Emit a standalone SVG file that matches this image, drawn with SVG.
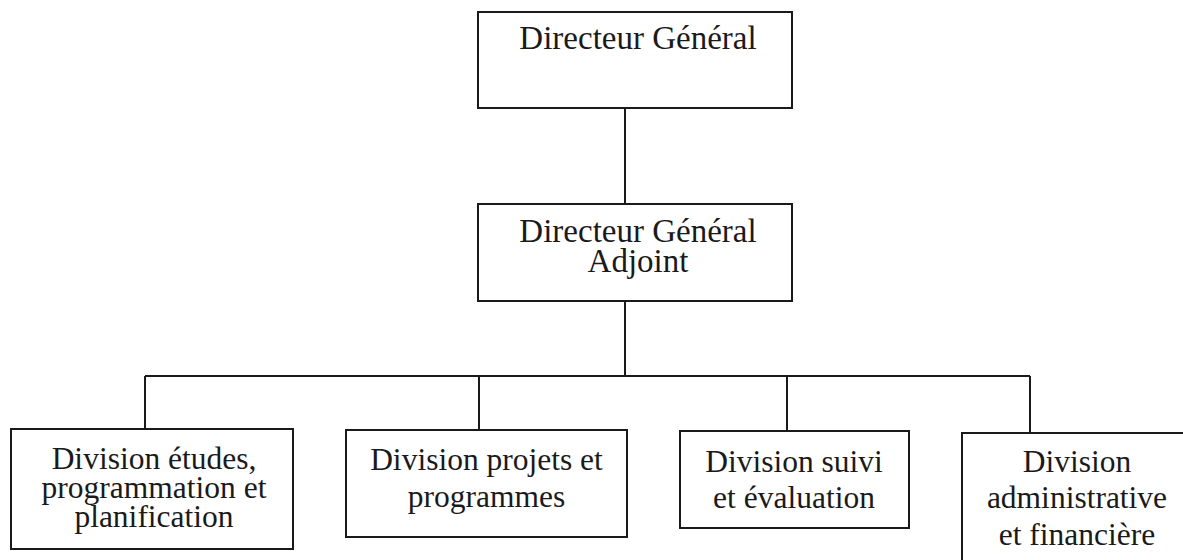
<svg xmlns="http://www.w3.org/2000/svg" width="1183" height="560" viewBox="0 0 1183 560">
<style>
.box{fill:#fff;stroke:#1a1a1a;stroke-width:2}
.ln{stroke:#1a1a1a;stroke-width:2;fill:none}
text{font-family:"Liberation Serif","Times New Roman",serif;fill:#1a1a1a;text-anchor:middle}
.t1{font-size:33px}
.t2{font-size:31.5px}
</style>
<rect width="1183" height="560" fill="#fff"/>
<g id="connectors">
<line class="ln" x1="625" y1="108" x2="625" y2="204"/>
<line class="ln" x1="625" y1="301" x2="625" y2="376"/>
<line class="ln" x1="145" y1="376" x2="1030" y2="376"/>
<line class="ln" x1="145" y1="376" x2="145" y2="429"/>
<line class="ln" x1="479" y1="376" x2="479" y2="430"/>
<line class="ln" x1="787" y1="376" x2="787" y2="431"/>
<line class="ln" x1="1030" y1="376" x2="1030" y2="433"/>
</g>
<g id="dg">
<rect class="box" x="478" y="12" width="314" height="96"/>
<text class="t1" x="638" y="49">Directeur Général</text>
</g>
<g id="dga">
<rect class="box" x="478" y="204" width="314" height="97"/>
<text class="t1" x="638" y="242">Directeur Général</text>
<text class="t1" x="638" y="272">Adjoint</text>
</g>
<g id="div-etudes">
<rect class="box" x="11" y="429" width="282" height="120"/>
<text class="t2" x="154" y="469">Division études,</text>
<text class="t2" x="154" y="498">programmation et</text>
<text class="t2" x="154" y="527">planification</text>
</g>
<g id="div-projets">
<rect class="box" x="346" y="430" width="281" height="107"/>
<text class="t2" x="486.5" y="470">Division projets et</text>
<text class="t2" x="486.5" y="507">programmes</text>
</g>
<g id="div-suivi">
<rect class="box" x="680" y="431" width="229" height="97"/>
<text class="t2" x="794" y="472">Division suivi</text>
<text class="t2" x="794" y="508">et évaluation</text>
</g>
<g id="div-admin">
<rect class="box" x="962" y="433" width="240" height="140"/>
<text class="t2" x="1077" y="472">Division</text>
<text class="t2" x="1077" y="508">administrative</text>
<text class="t2" x="1077" y="545">et financière</text>
</g>
</svg>
